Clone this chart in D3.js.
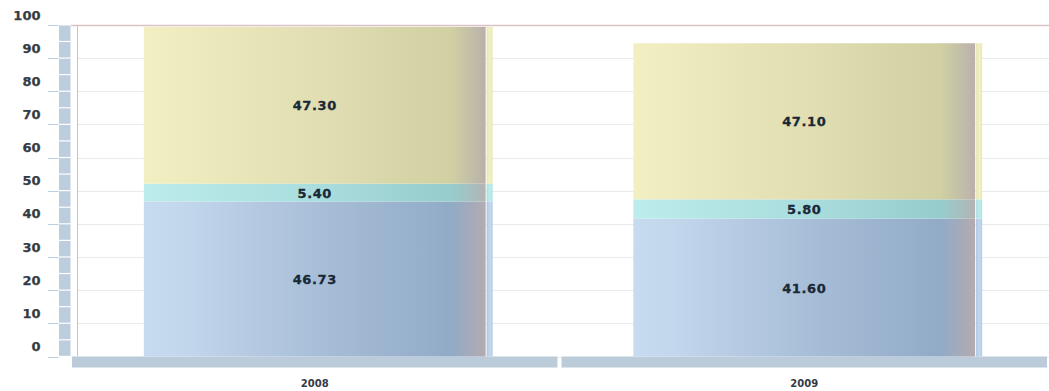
<!DOCTYPE html>
<html>
<head>
<meta charset="utf-8">
<script src="https://cdn.jsdelivr.net/npm/d3@7"></script>
<style>
  html, body { margin: 0; padding: 0; background: #fff; }
  svg { display: block; }
  text { font-family: "DejaVu Sans", Verdana, sans-serif; font-weight: bold; }
</style>
</head>
<body>
<svg id="chart" width="1049" height="391"></svg>
<script>
// Years on the category axis
const categories = ["2008", "2009"];
// Stacked series, bottom to top
const seriesNames = ["blue", "cyan", "yellow"];
const blueValues = [46.73, 41.60];
const cyanValues = [5.40, 5.80];
const yellowValues = [47.30, 47.10];
// Value axis tick labels
const yTicks = [0, 10, 20, 30, 40, 50, 60, 70, 80, 90, 100];

const W = 1049, H = 391;
const svg = d3.select("#chart");

const y = d3.scaleLinear().domain([0, 100]).range([356.5, 25]);
const x = d3.scaleBand().domain(categories).range([72, 1047]).paddingInner(0.0082).paddingOuter(0);

const rows = categories.map((c, i) => ({
  cat: c, blue: blueValues[i], cyan: cyanValues[i], yellow: yellowValues[i]
}));
const stack = d3.stack().keys(seriesNames)(rows);

// gradients for the bar faces and the narrow side strips
const faceStops = {
  blue:   [[0, "#c6daf0"], [0.12, "#c2d6ec"], [0.55, "#a6bcd6"], [0.9, "#91abc7"], [0.96, "#a6aab9"], [1, "#b4abb0"]],
  cyan:   [[0, "#bdecec"], [0.12, "#b8e8e8"], [0.55, "#a8dcdc"], [0.9, "#97cccc"], [0.96, "#a6bfbf"], [1, "#b4b3b2"]],
  yellow: [[0, "#f2f0c2"], [0.12, "#eeecbe"], [0.55, "#dfddb1"], [0.9, "#d0d0a2"], [0.96, "#c2bea8"], [1, "#bbafab"]]
};
const sideStops = {
  blue:   [[0, "#a9c3e0"], [0.5, "#c4d9f0"], [1, "#b2cbe6"]],
  cyan:   [[0, "#a8dcdc"], [0.5, "#bdeded"], [1, "#b0e2e2"]],
  yellow: [[0, "#e4e4b0"], [0.5, "#f3f1c4"], [1, "#e8e8b4"]]
};
const defs = svg.append("defs");
function addGrad(id, stops) {
  const g = defs.append("linearGradient").attr("id", id)
    .attr("x1", "0").attr("x2", "1").attr("y1", "0").attr("y2", "0");
  stops.forEach(s => g.append("stop").attr("offset", s[0]).attr("stop-color", s[1]));
}
seriesNames.forEach(k => { addGrad("face-" + k, faceStops[k]); addGrad("side-" + k, sideStops[k]); });

// horizontal grid lines
svg.append("g").selectAll("line").data(yTicks.slice(0, -1)).join("line")
  .attr("x1", 77).attr("x2", W)
  .attr("y1", d => Math.round(y(d)) + 0.5).attr("y2", d => Math.round(y(d)) + 0.5)
  .attr("stroke", "#eaeaea").attr("stroke-width", 1);

// top frame line and left red line
svg.append("line").attr("x1", 71).attr("x2", W)
  .attr("y1", Math.round(y(100)) + 0.5).attr("y2", Math.round(y(100)) + 0.5)
  .attr("stroke", "#d9c3c4").attr("stroke-width", 1.5);
svg.append("line").attr("x1", 77.5).attr("x2", 77.5)
  .attr("y1", y(100)).attr("y2", y(0))
  .attr("stroke", "#e2b9b9").attr("stroke-width", 1);

// segmented column next to the value axis (one block per 5 units)
const blocks = d3.range(0, 100, 5);
svg.append("g").selectAll("rect").data(blocks).join("rect")
  .attr("x", 59).attr("width", 11.5)
  .attr("y", d => y(d + 5) + 0.5)
  .attr("height", d => y(d) - y(d + 5) - 1.2)
  .attr("fill", "#bccddd");

// tick marks and labels
svg.append("g").selectAll("line").data(yTicks).join("line")
  .attr("x1", 48).attr("x2", 58.5)
  .attr("y1", d => Math.round(y(d)) + 0.5).attr("y2", d => Math.round(y(d)) + 0.5)
  .attr("stroke", "#bccfe2").attr("stroke-width", 1);
svg.append("g").selectAll("text").data(yTicks).join("text")
  .attr("x", 40.5).attr("y", d => y(d) - 5.5)
  .attr("text-anchor", "end").attr("font-size", 13).attr("fill", "#343b44")
  .attr("stroke", "#343b44").attr("stroke-width", 0.25)
  .text(d => d);

// category bands along the bottom
svg.append("g").selectAll("rect").data(categories).join("rect")
  .attr("x", d => x(d)).attr("width", x.bandwidth())
  .attr("y", y(0)).attr("height", 11)
  .attr("fill", "#bccbda");
svg.append("g").selectAll("text").data(categories).join("text")
  .attr("x", d => x(d) + x.bandwidth() / 2).attr("y", 387)
  .attr("text-anchor", "middle").attr("font-size", 10).attr("fill", "#333a44")
  .text(d => d);

// stacked bars: face plus a narrow side strip
const barW = x.bandwidth() * 0.704;
const barX = d => x(d) + (x.bandwidth() - barW) / 2;
const layers = svg.append("g").selectAll("g").data(stack).join("g");
layers.selectAll("rect.face").data(s => s.map(p => ({ key: s.key, p }))).join("rect")
  .attr("class", "face")
  .attr("x", d => barX(d.p.data.cat)).attr("width", barW)
  .attr("y", d => y(d.p[1])).attr("height", d => y(d.p[0]) - y(d.p[1]))
  .attr("fill", d => "url(#face-" + d.key + ")");
layers.selectAll("rect.side").data(s => s.map(p => ({ key: s.key, p }))).join("rect")
  .attr("class", "side")
  .attr("x", d => barX(d.p.data.cat) + barW + 1).attr("width", 6)
  .attr("y", d => y(d.p[1])).attr("height", d => y(d.p[0]) - y(d.p[1]))
  .attr("fill", d => "url(#side-" + d.key + ")");

// value labels centred in each segment
layers.selectAll("text").data(s => s.map(p => ({ key: s.key, p }))).join("text")
  .attr("x", d => barX(d.p.data.cat) + barW / 2)
  .attr("y", d => (y(d.p[0]) + y(d.p[1])) / 2 + 5)
  .attr("text-anchor", "middle").attr("font-size", 13).attr("letter-spacing", 0.6)
  .attr("fill", "#1a2836").attr("stroke", "#1a2836").attr("stroke-width", 0.3)
  .text(d => (d.p[1] - d.p[0]).toFixed(2));
</script>
</body>
</html>
